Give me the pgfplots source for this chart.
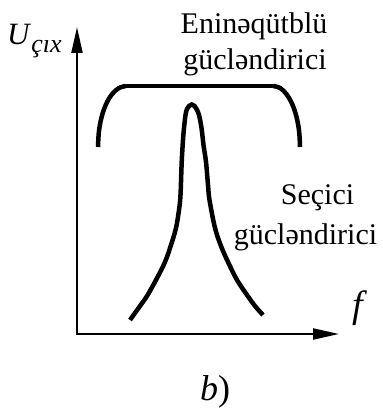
\documentclass[border=0pt]{standalone}
\usepackage{pgfplots}
\pgfplotsset{compat=1.18}
\usepackage{fontspec}
\setmainfont{Liberation Serif}
\usetikzlibrary{arrows.meta}

\begin{document}
\begin{tikzpicture}
\begin{axis}[
  x=1pt, y=1pt,
  xmin=0, xmax=382, ymin=0, ymax=414,
  axis lines=none,
  xtick=\empty, ytick=\empty,
  clip=false,
]
% frame of the whole figure
\coordinate (BL) at (axis cs:0,0);
\coordinate (TR) at (axis cs:382,414);

% coordinate axes U (vertical) and f (horizontal)
\addplot[line width=2.2pt, -{Triangle[length=26pt,width=11pt]}] coordinates {(77,79) (77,387)};
\addplot[line width=2.2pt, -{Triangle[length=26pt,width=11pt]}] coordinates {(76,80) (339,80)};

% broadband amplifier: flat top with rounded shoulders
\addplot[line width=4.5pt, smooth, tension=0.6] coordinates {
  (98,267) (98.95,282.8) (101.75,297.5) (106.2,310.1) (112,319.8) (118.75,325.9) (126,328)
};
\addplot[line width=4.5pt] coordinates {(126,328) (273,328)};
\addplot[line width=4.5pt, smooth, tension=0.6] coordinates {
  (273,328) (280.25,325.9) (286.5,319.8) (292.1,310.1) (296.4,297.5) (299.1,282.8) (300,267)
};

% selective amplifier: narrow resonance peak
\addplot[line width=4.5pt, smooth, tension=0.55] coordinates {
  (130,94) (140,108) (147,118) (156,134) (165,152) (171,169) (176,186) (179,204)
  (180.5,219) (181.7,252) (183,274) (184,286) (185.5,299) (187,305) (189,308)
  (191.7,309.5)
  (194.5,308) (196.5,305) (199,299) (201.5,286) (203.5,269) (206,252) (208,229)
  (209.5,214) (215,186) (221,168) (228,152) (237,134) (247,119) (255,108) (263,99)
};

\node[anchor=base, inner sep=0pt, font=\fontsize{30}{36}\selectfont] at (axis cs:254,380.7) {Eninəqütblü};
\node[anchor=base, inner sep=0pt, font=\fontsize{30}{36}\selectfont] at (axis cs:255,344) {gücləndirici};
\node[anchor=base, inner sep=0pt, font=\fontsize{30}{36}\selectfont] at (axis cs:317.5,209) {Seçici};
\node[anchor=base, inner sep=0pt, font=\fontsize{30}{36}\selectfont] at (axis cs:305.5,169) {gücləndirici};

\node[anchor=base west, inner sep=0pt, font=\fontsize{31}{36}\selectfont] at (axis cs:7,369)
  {\textit{U}\raisebox{-8pt}{\fontsize{26}{28}\selectfont\textit{çıx}}};
\node[anchor=base, inner sep=0pt, font=\fontsize{38}{40}\selectfont] at (axis cs:360,96) {\textit{f}};
\node[anchor=base, inner sep=0pt, font=\fontsize{36}{40}\selectfont] at (axis cs:215,14) {\textit{b})};
\end{axis}
\pgfresetboundingbox
\useasboundingbox (BL) rectangle (TR);
\end{tikzpicture}
\end{document}
